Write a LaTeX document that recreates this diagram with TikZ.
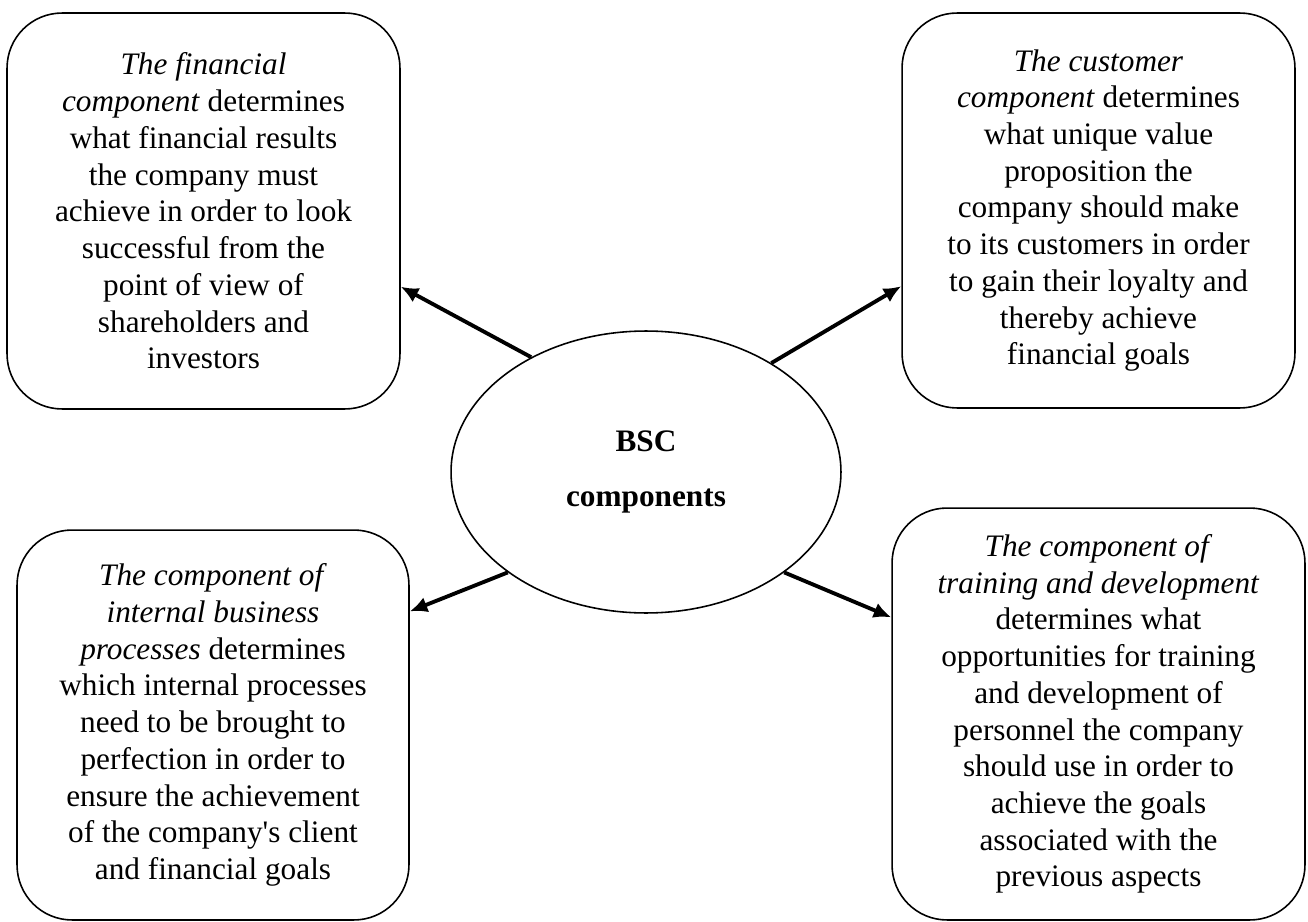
\documentclass[tikz,border=0pt]{standalone}
\usepackage{fontspec}
\setmainfont{Liberation Serif}
\usetikzlibrary{shapes.geometric, arrows.meta}

\begin{document}
\begin{tikzpicture}[x = 0.02 cm, y = -0.02 cm, > = {Latex[length = 10pt, width = 9pt]},
	part/.style = {draw, line width = 0.9pt, rounded corners = 1.1 cm, align = center, inner sep = 0pt, font = \fontsize{17.8}{20.9}\selectfont},
	link/.style = {->, line width = 2.2pt}]

	\useasboundingbox (0, 0) rectangle (1308, 922);

	\node [draw, line width = 0.9pt, ellipse, inner sep = 0pt, minimum width = 7.8 cm, minimum height = 5.64 cm, align = center, font = \fontsize{17.8}{20.9}\selectfont\bfseries] (bsc) at (646, 472) {BSC\\[10.4pt]components};

	\node [part, minimum width = 7.86 cm, minimum height = 7.92 cm] (fin) at (203.5, 211) {\textit{The financial}\\ \textit{component} determines\\ what financial results\\ the company must\\ achieve in order to look\\ successful from the\\ point of view of\\ shareholders and\\ investors};

	\node [part, minimum width = 7.86 cm, minimum height = 7.9 cm] (cust) at (1098.5, 210.5) {\textit{The customer}\\ \textit{component} determines\\ what unique value\\ proposition the\\ company should make\\ to its customers in order\\ to gain their loyalty and\\ thereby achieve\\ financial goals};

	\node [part, minimum width = 7.84 cm, minimum height = 7.8 cm] (proc) at (213, 725) {\textit{The component of}\\ \textit{internal business}\\ \textit{processes} determines\\ which internal processes\\ need to be brought to\\ perfection in order to\\ ensure the achievement\\ of the company\textquotesingle s client\\ and financial goals};

	\node [part, minimum width = 8.26 cm, minimum height = 8.24 cm] (train) at (1098.5, 714) {\textit{The component of}\\ \textit{training and development}\\ determines what\\ opportunities for training\\ and development of\\ personnel the company\\ should use in order to\\ achieve the goals\\ associated with the\\ previous aspects};

	\draw [link] (bsc.135) -- (fin.-21);
	\draw [link] (bsc.41) -- (cust.201.4);
	\draw [link] (bsc.216) -- (proc.30.2);
	\draw [link] (bsc.324.6) -- (train.155.5);

\end{tikzpicture}
\end{document}
